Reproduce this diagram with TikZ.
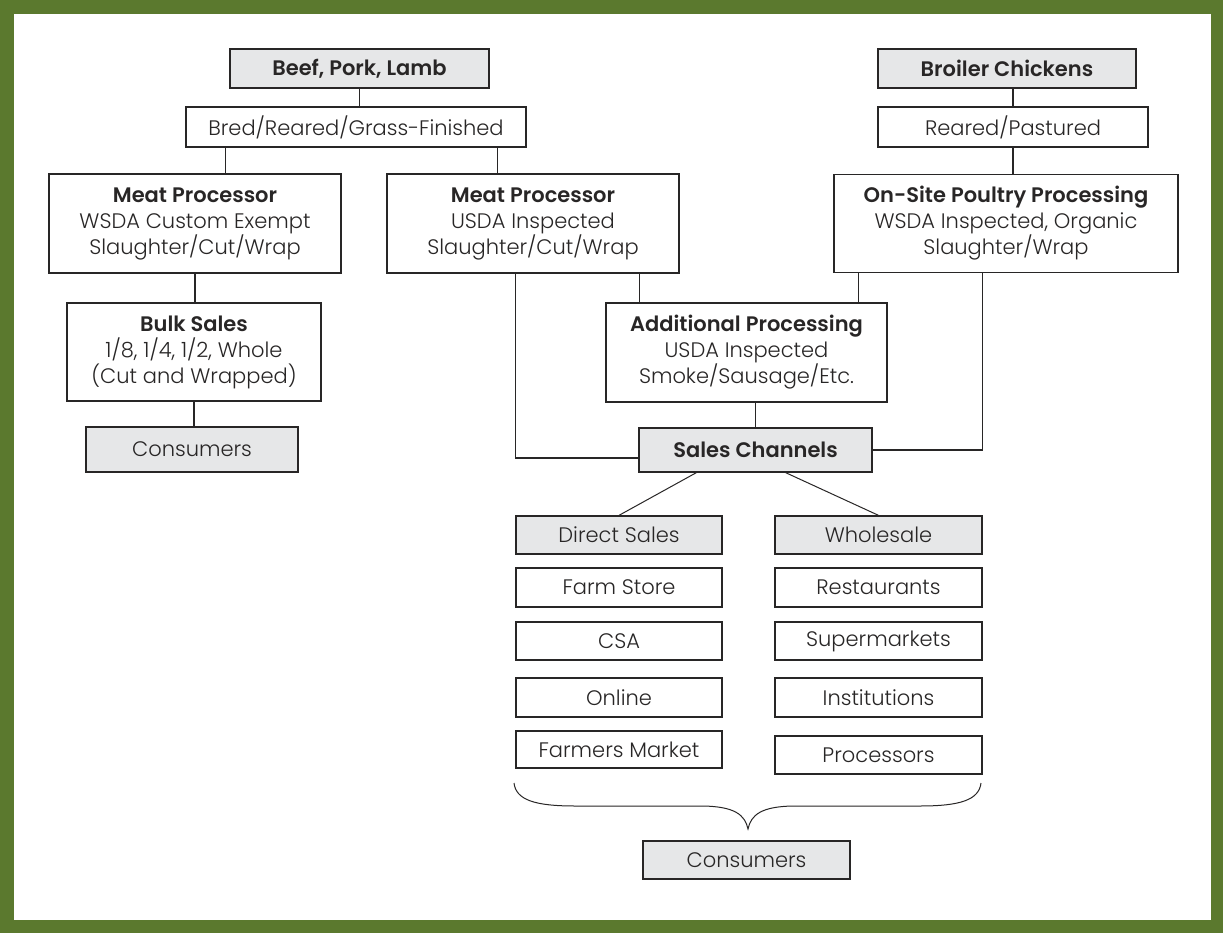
\documentclass[tikz,border=0pt]{standalone}
\usepackage{fontspec}
\IfFontExistsTF{Poppins Light}{%
  \IfFontExistsTF{Poppins SemiBold}%
    {\setmainfont{Poppins Light}[BoldFont=Poppins SemiBold]}%
    {\setmainfont{Poppins Light}[BoldFont=Poppins Bold]}}%
  {\setmainfont{Poppins}}
\definecolor{frame}{RGB}{91,121,46}
\definecolor{boxgray}{RGB}{230,231,232}
\definecolor{ink}{RGB}{40,38,38}

\begin{document}
\begin{tikzpicture}[x=1pt,y=-1pt,line width=1.3pt,color=ink]
\tikzstyle{box}=[draw,fill=white,align=center,inner sep=0pt,font=\fontsize{21}{26}\selectfont];
\tikzstyle{head}=[box,fill=boxgray];

% green frame
\fill [frame] (0,0) rectangle (1223,933);
\fill [white] (14,14) rectangle (1211,920);

% red meat side
\node [head,minimum width=259,minimum height=39] (beef) at (359.5,68.5) {\textbf{Beef, Pork, Lamb}};
\node [box,minimum width=340,minimum height=40] (bred) at (356,127) {Bred/Reared/Grass-Finished};
\node [box,minimum width=292,minimum height=99] (mpl) at (195,223.5) {\textbf{Meat Processor}\\WSDA Custom Exempt\\Slaughter/Cut/Wrap};
\node [box,minimum width=292,minimum height=99] (mpm) at (533,223.5) {\textbf{Meat Processor}\\USDA Inspected\\Slaughter/Cut/Wrap};
\node [box,minimum width=254,minimum height=98] (bulk) at (194,352) {\textbf{Bulk Sales}\\1/8, 1/4, 1/2, Whole\\(Cut and Wrapped)};
\node [head,minimum width=212,minimum height=45] (consl) at (192,449.5) {Consumers};

% poultry side
\node [head,minimum width=258,minimum height=39] (broiler) at (1007,68.5) {\textbf{Broiler Chickens}};
\node [box,minimum width=270,minimum height=40] (reared) at (1013,127) {Reared/Pastured};
\node [box,minimum width=344,minimum height=98] (ospp) at (1006,223.5) {\textbf{On-Site Poultry Processing}\\WSDA Inspected, Organic\\Slaughter/Wrap};

\node [box,minimum width=281,minimum height=99] (addp) at (746.5,352.5) {\textbf{Additional Processing}\\USDA Inspected\\Smoke/Sausage/Etc.};
\node [head,minimum width=233,minimum height=44] (sales) at (755.5,450) {\textbf{Sales Channels}};

% channels
\node [head,minimum width=206,minimum height=38] (direct) at (619,535) {Direct Sales};
\node [box,minimum width=206,minimum height=39] (farm) at (619,587.5) {Farm Store};
\node [box,minimum width=206,minimum height=38] (csa) at (619,641) {CSA};
\node [box,minimum width=206,minimum height=39] (online) at (619,697.5) {Online};
\node [box,minimum width=206,minimum height=37] (fmkt) at (619,749.5) {Farmers Market};
\node [head,minimum width=207,minimum height=38] (whole) at (878.5,535) {Wholesale};
\node [box,minimum width=207,minimum height=39] (rest) at (878.5,587.5) {Restaurants};
\node [box,minimum width=207,minimum height=38] (super) at (878.5,641) {Supermarkets};
\node [box,minimum width=207,minimum height=39] (inst) at (878.5,697.5) {Institutions};
\node [box,minimum width=207,minimum height=38] (proc) at (878.5,755) {Processors};
\node [head,minimum width=207,minimum height=38] (consb) at (746.5,860) {Consumers};

% connectors
\draw (beef.south) -- (beef.south |- bred.north);
\draw ([xshift=40]bred.south west) |- (mpl.north);
\draw ([xshift=-29]bred.south east) |- (mpm.north);
\draw (mpl.south) -- (mpl.south |- bulk.north);
\draw (bulk.south) -- (bulk.south |- consl.north);
\draw (reared.north) -- (reared.north |- broiler.south);
\draw (reared.south) -- (reared.south |- ospp.north);
\draw ([xshift=-40]mpm.south east) |- (addp.north);
\draw ([xshift=25]ospp.south west) |- (addp.north);
\draw ([xshift=129]mpm.south west) |- ([yshift=-8]sales.west);
\draw ([xshift=-196]ospp.south east) |- (sales.east);
\draw (sales.north) -- (sales.north |- addp.south);
\draw [line width=1pt] ([xshift=58]sales.south west) -- (direct.north);
\draw [line width=1pt] ([xshift=-87]sales.south east) -- (whole.north);

% brace
\draw [line width=1pt] (514,783) .. controls (516,800) and (535,806) .. (575,806) -- (700,806)
  .. controls (735,806) and (745,815) .. (748,829)
  .. controls (751,815) and (761,806) .. (796,806) -- (920,806)
  .. controls (960,806) and (979,800) .. (981,783);
\end{tikzpicture}
\end{document}
